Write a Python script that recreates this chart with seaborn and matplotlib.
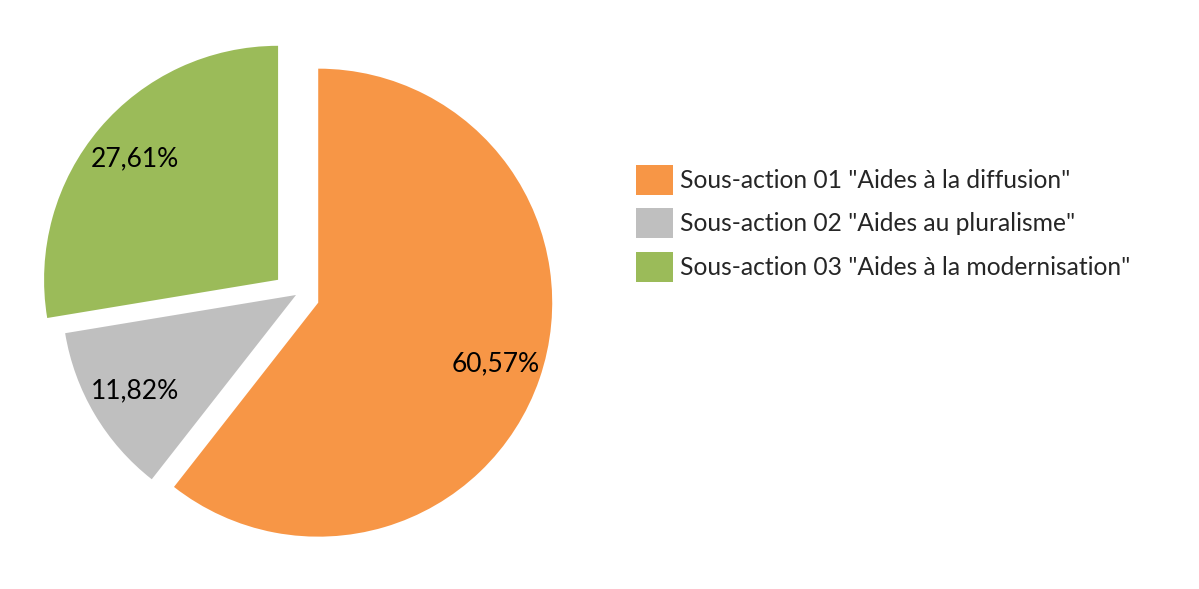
import matplotlib
matplotlib.use("Agg")
import matplotlib.pyplot as plt
import seaborn as sns


# Data
CATEGORIES = [
    'Sous-action 01 "Aides à la diffusion"',
    'Sous-action 02 "Aides au pluralisme"',
    'Sous-action 03 "Aides à la modernisation"',
]
SHARES = [60.57, 11.82, 27.61]
COLORS = ["#F79646", "#BFBFBF", "#9BBB59"]

FIG_W, FIG_H = 1199, 589
FONT = "Lato"
RADIUS = 234
# explode in matplotlib is in data units (pixels here), not radius fraction
EXPLODE = [23.5, 0.0, 23.5]


# French style percent label: comma as decimal separator
def french_pct(pct):
    return f"{pct:.2f}%".replace(".", ",")


def draw_pie_chart():
    sns.set_theme(style="white")
    plt.rcParams["font.family"] = [FONT, "DejaVu Sans"]

    fig = plt.figure(figsize=(FIG_W / 100, FIG_H / 100), dpi=100)
    ax = fig.add_axes([0, 0, 1, 1])

    # pie drawn in pixel-like data units so layout is easy to match
    wedges, _, pct_texts = ax.pie(
        SHARES,
        colors=sns.color_palette(COLORS),
        explode=EXPLODE,
        startangle=90,
        counterclock=False,
        center=(296, FIG_H - 295),
        radius=RADIUS,
        autopct=french_pct,
        pctdistance=0.8,
        textprops={"fontsize": 19, "color": "black"},
        wedgeprops={"linewidth": 0},
    )
    ax.set_xlim(0, FIG_W)
    ax.set_ylim(0, FIG_H)
    ax.set_aspect("equal")
    ax.axis("off")

    ax.legend(
        wedges,
        CATEGORIES,
        loc="upper left",
        bbox_to_anchor=(636 / FIG_W, 1 - 165 / FIG_H),
        bbox_transform=fig.transFigure,
        frameon=False,
        fontsize=17.7,
        handlelength=1.5,
        handleheight=1.5,
        handletextpad=0.3,
        labelspacing=0.54,
        borderaxespad=0,
        borderpad=0,
    )

    fig.savefig("out.png", dpi=100, facecolor="white")


def main():
    draw_pie_chart()


if __name__ == "__main__":
    main()
